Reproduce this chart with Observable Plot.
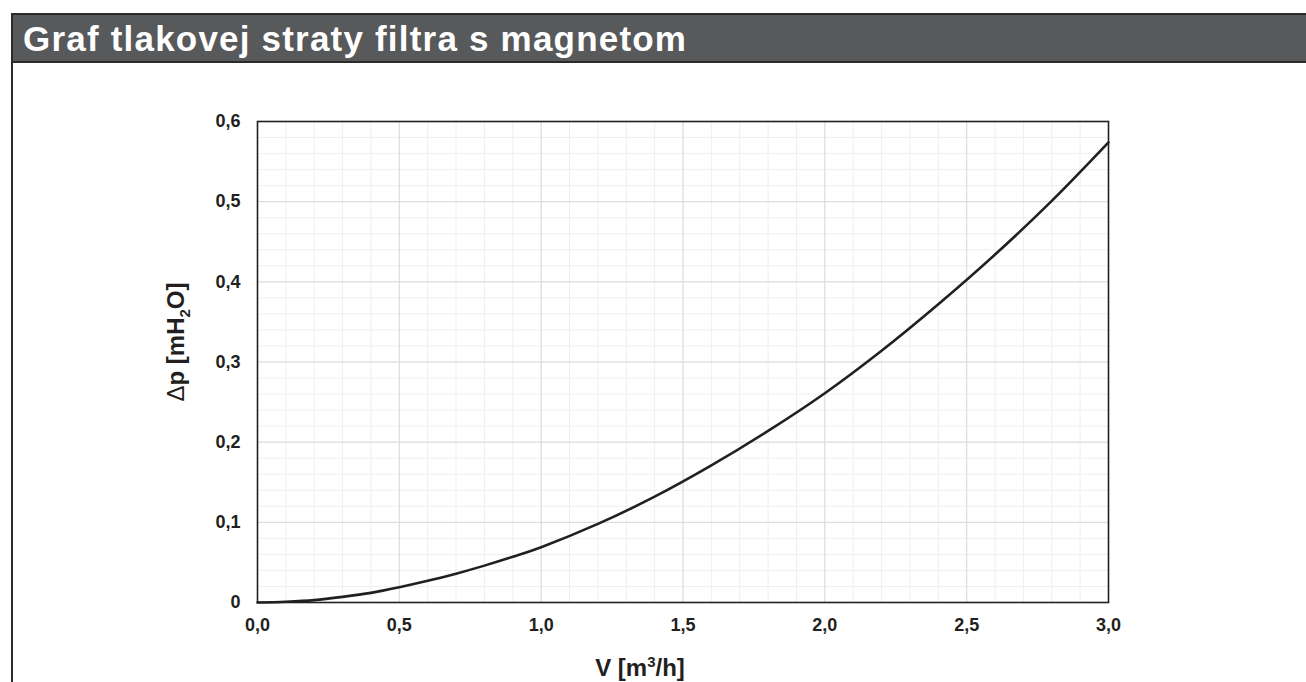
<!DOCTYPE html>
<html><head><meta charset="utf-8">
<script src="https://cdn.jsdelivr.net/npm/d3@7"></script>
<script src="https://cdn.jsdelivr.net/npm/@observablehq/plot@0.6"></script>
<style>
html,body{margin:0;padding:0;background:#fff;width:1306px;height:682px;overflow:hidden;font-family:"Liberation Sans",Arial,sans-serif;}
#frame{position:absolute;left:11px;top:13px;width:1400px;height:800px;border-left:2px solid #2b2b2b;box-sizing:border-box;}
#title{position:absolute;left:11px;top:13px;width:1400px;height:50px;box-sizing:border-box;background:#58595b;border:2px solid #2b2b2b;color:#fff;font-weight:bold;font-size:35px;letter-spacing:1.2px;line-height:47px;padding-left:10px;white-space:nowrap;}
#chart{position:absolute;left:0;top:64px;}
</style></head><body>
<div id="frame"></div><div id="title">Graf tlakovej straty filtra s magnetom</div>
<div id="chart"></div>
<script>
// Flow rate V [m3/h]
const flow = [0, 0.1, 0.2, 0.3, 0.4, 0.5, 0.6, 0.7, 0.8, 0.9, 1.0, 1.2, 1.4, 1.6, 1.8, 2.0, 2.2, 2.4, 2.6, 2.8, 3.0];
// Pressure loss Δp [mH2O]
const loss = [0, 0.001, 0.003, 0.007, 0.012, 0.019, 0.027, 0.036, 0.046, 0.057, 0.069, 0.098, 0.132, 0.171, 0.214, 0.261, 0.314, 0.372, 0.434, 0.501, 0.574];
// Tick labels
const xTicks = [0, 0.5, 1.0, 1.5, 2.0, 2.5, 3.0];
const yTicks = [0, 0.1, 0.2, 0.3, 0.4, 0.5, 0.6];
const xMinorStep = 0.1;
const yMinorStep = 0.02;

const data = flow.map((v, i) => ({v, p: loss[i]}));
const xMinor = d3.range(0, 3 + 1e-9, xMinorStep);
const yMinor = d3.range(0, 0.6 + 1e-9, yMinorStep);
const comma = d => d.toFixed(1).replace(".", ",");

const chart = Plot.plot({
  width: 1306, height: 618,
  marginLeft: 257, marginRight: 198, marginTop: 57, marginBottom: 80,
  x: {domain: [0, 3]},
  y: {domain: [0, 0.6]},
  style: {fontFamily: "'Liberation Sans', Arial, sans-serif", fontSize: "18px", fontWeight: "bold", color: "#231f20", background: "transparent"},
  marks: [
    Plot.ruleX(xMinor, {stroke: "#efefef", strokeWidth: 1}),
    Plot.ruleY(yMinor, {stroke: "#efefef", strokeWidth: 1}),
    Plot.ruleX(xTicks, {stroke: "#dadada", strokeWidth: 1}),
    Plot.ruleY(yTicks, {stroke: "#dadada", strokeWidth: 1}),
    Plot.line(data, {x: "v", y: "p", stroke: "#231f20", strokeWidth: 2.6, curve: "catmull-rom"}),
    Plot.frame({stroke: "#231f20", strokeWidth: 1.6}),
    Plot.axisX(xTicks, {tickSize: 0, tickPadding: 16, tickFormat: comma, label: null, fontSize: 18, fontWeight: "bold"}),
    Plot.axisY(yTicks, {tickSize: 0, tickPadding: 17, tickFormat: d => d === 0 ? "0" : comma(d), label: null, fontSize: 18, fontWeight: "bold"})
  ]
});
document.getElementById("chart").appendChild(chart);

const svg = d3.select(chart);
const xl = svg.append("text")
  .attr("x", 640).attr("y", 612).attr("text-anchor", "middle")
  .attr("fill", "#231f20").style("font-size", "24px").style("font-weight", "bold");
xl.append("tspan").text("V [m");
xl.append("tspan").attr("dy", -9).style("font-size", "15px").text("3");
xl.append("tspan").attr("dy", 9).text("/h]");

const yl = svg.append("text")
  .attr("transform", "translate(184,278) rotate(-90)").attr("text-anchor", "middle")
  .attr("fill", "#231f20").style("font-size", "24px").style("font-weight", "bold");
yl.append("tspan").style("font-weight", "normal").text("Δ");
yl.append("tspan").text("p [mH");
yl.append("tspan").attr("dy", 6).style("font-size", "15px").text("2");
yl.append("tspan").attr("dy", -6).text("O]");
</script>
</body></html>
